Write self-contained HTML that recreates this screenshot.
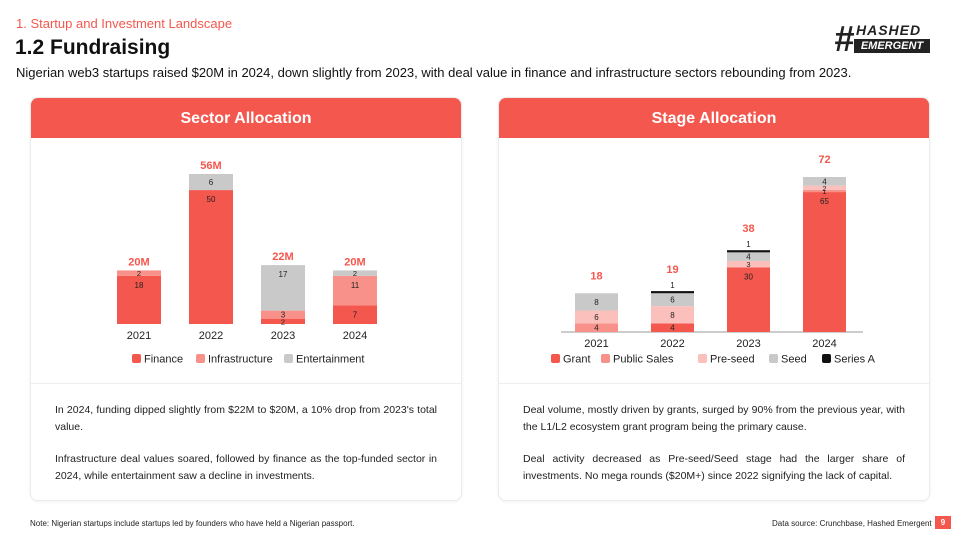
<!DOCTYPE html>
<html><head><meta charset="utf-8"><style>
body{margin:0;width:960px;height:540px;background:#fff;font-family:"Liberation Sans",sans-serif;position:relative;overflow:hidden;color:#111}
.abs{position:absolute}
.card{position:absolute;top:97px;width:430px;height:402px;border:1px solid #ececec;border-radius:8px;box-shadow:0 1px 3px rgba(0,0,0,0.06);overflow:hidden;background:#fff}
.hdr{height:40px;background:#F4574D;color:#fff;font-weight:bold;font-size:16px;text-align:center;line-height:42px}
.div{position:absolute;left:0;right:0;top:285px;border-top:1px solid #eee}
.txt{position:absolute;left:24px;right:24px;top:304px;font-size:10.5px;line-height:17px;text-align:justify;color:#222}
.txt p{margin:0 0 15px 0}
</style></head><body>
<div class="abs" style="left:16px;top:16px;font-size:13px;color:#F4574D">1. Startup and Investment Landscape</div>
<div class="abs" style="left:15px;top:36px;font-size:21px;font-weight:bold">1.2 Fundraising</div>
<div class="abs" style="left:16px;top:65px;font-size:13px">Nigerian web3 startups raised $20M in 2024, down slightly from 2023, with deal value in finance and infrastructure sectors rebounding from 2023.</div>
<div class="abs" style="left:834px;top:22px;width:100px;height:32px">
 <div class="abs" style="left:0;top:-4px;font-size:36px;font-weight:bold;color:#222;font-style:italic">#</div>
 <div class="abs" style="left:22px;top:0;font-size:14px;font-weight:bold;font-style:italic;color:#222;letter-spacing:1px">HASHED</div>
 <div class="abs" style="left:20px;top:17px;width:76px;height:14px;background:#222;color:#fff;font-size:11px;font-weight:bold;font-style:italic;line-height:14px;text-align:center">EMERGENT</div>
</div>

<div class="card" style="left:30px">
 <div class="hdr">Sector Allocation</div>
 <div class="div"></div>
 <div class="txt"><p>In 2024, funding dipped slightly from $22M to $20M, a 10% drop from 2023's total value.</p><p>Infrastructure deal values soared, followed by finance as the top-funded sector in 2024, while entertainment saw a decline in investments.</p></div>
</div>
<div class="card" style="left:498px">
 <div class="hdr">Stage Allocation</div>
 <div class="div"></div>
 <div class="txt"><p>Deal volume, mostly driven by grants, surged by 90% from the previous year, with the L1/L2 ecosystem grant program being the primary cause.</p><p>Deal activity decreased as Pre-seed/Seed stage had the larger share of investments. No mega rounds ($20M+) since 2022 signifying the lack of capital.</p></div>
</div>

<svg class="abs" style="left:0;top:0" width="960" height="540" id="charts"></svg>

<div class="abs" style="left:30px;top:519px;font-size:8px;color:#222">Note: Nigerian startups include startups led by founders who have held a Nigerian passport.</div>
<div class="abs" style="left:772px;top:519px;font-size:8px;color:#222">Data source: Crunchbase, Hashed Emergent</div>
<div class="abs" style="left:935px;top:516px;width:16px;height:13px;background:#F4574D;color:#fff;font-size:8px;font-weight:bold;text-align:center;line-height:13px">9</div>

<script>
const sectorYears=["2021","2022","2023","2024"];
const sectorFinance=[18,50,2,7];
const sectorInfra=[2,0,3,11];
const sectorEnt=[0,6,17,2];
const sectorTotals=["20M","56M","22M","20M"];
const stageYears=["2021","2022","2023","2024"];
const stageGrant=[0,4,30,65];
const stagePublic=[4,0,0,1];
const stagePreseed=[6,8,3,2];
const stageSeed=[8,6,4,4];
const stageSeriesA=[0,1,1,0];
const stageTotals=["18","19","38","72"];

const NS="http://www.w3.org/2000/svg";
const svg=document.getElementById('charts');
function mk(tag,attrs,txt){const e=document.createElementNS(NS,tag);for(const k in attrs)e.setAttribute(k,attrs[k]);if(txt!==undefined)e.textContent=txt;svg.appendChild(e);return e;}

function stacked(cfg){
 const {years,series,totals,x0,step,bw,base,scale}=cfg;
 const y=v=>base-v*scale;
 if(cfg.axis){const a=mk('line',{x1:cfg.axis[0],x2:cfg.axis[1],y1:base,y2:base,stroke:'#999','stroke-width':1});
  
  }
 years.forEach((yr,i)=>{
  const x=x0+i*step;let cum=0;
  series.forEach(s=>{
   const v=s.values[i];if(!v)return;
   const h=v*scale;const top=y(cum+v);
   const r=mk('rect',{x:x,y:top,width:bw,height:h,fill:s.color});
   
   
   if(s.key!=='seriesa'){
    const fs=h<7?7.5:8;
    const t=mk('text',{x:x+bw/2,y:h>20?top+12:top+h/2+3,'font-size':fs,'text-anchor':'middle',fill:'#222'},v);
    
    
   } else {
    const t=mk('text',{x:x+bw/2,y:top-3,'font-size':8,'text-anchor':'middle',fill:'#222'},v);
    
    
   }
   cum+=v;
  });
  const off=cfg.prefix==='stage'&&series[4].values[i]?18:(cfg.prefix==='stage'?14:5);
  const tt=mk('text',{x:x+bw/2,y:y(cum)-off,'font-size':11,'font-weight':'bold','text-anchor':'middle',fill:'#F4574D'},totals[i]);
  
  
  const xl=mk('text',{x:x+bw/2,y:base+15,'font-size':11,'text-anchor':'middle',fill:'#222'},yr);
  
  
 });
 cfg.legend.forEach(l=>{
  const r=mk('rect',{x:l.x,y:cfg.legY-5,width:9,height:9,rx:2,fill:l.color});
  
  
  const t=mk('text',{x:l.x+12,y:cfg.legY+3.5,'font-size':11,fill:'#222'},l.name);
  
  
 });
}
const RED='#F4574D',INF='#F8918A',PRE='#FBC0BC',GRY='#C9C9C9',BLK='#111';
stacked({prefix:'sector',years:sectorYears,totals:sectorTotals,x0:117,step:72,bw:44,base:324,scale:150/56,
 series:[{key:'finance',values:sectorFinance,color:RED},{key:'infra',values:sectorInfra,color:INF},{key:'ent',values:sectorEnt,color:GRY}],
 legY:359,legend:[{x:132,name:'Finance',color:RED},{x:196,name:'Infrastructure',color:INF},{x:284,name:'Entertainment',color:GRY}]});
stacked({prefix:'stage',years:stageYears,totals:stageTotals,x0:575,step:76,bw:43,base:332,scale:155/72,axis:[561,863],
 series:[{key:'grant',values:stageGrant,color:RED},{key:'public',values:stagePublic,color:INF},{key:'preseed',values:stagePreseed,color:PRE},{key:'seed',values:stageSeed,color:GRY},{key:'seriesa',values:stageSeriesA,color:BLK}],
 legY:359,legend:[{x:551,name:'Grant',color:RED},{x:601,name:'Public Sales',color:INF},{x:698,name:'Pre-seed',color:PRE},{x:769,name:'Seed',color:GRY},{x:822,name:'Series A',color:BLK}]});
</script>
</body></html>
